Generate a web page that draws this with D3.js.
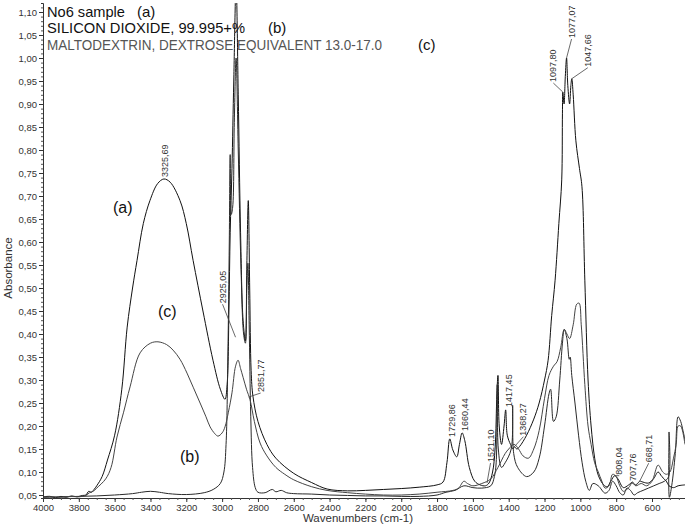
<!DOCTYPE html>
<html>
<head>
<meta charset="utf-8">
<script src="https://d3js.org/d3.v7.min.js"></script>
<style>
  body { margin: 0; background: #fff; }
  text { font-family: "Liberation Sans", Arial, sans-serif; }
</style>
</head>
<body>
<svg id="chart" width="685" height="531"></svg>
<script>
// ---- data ----
const xTicks = [4000, 3800, 3600, 3400, 3200, 3000, 2800, 2600, 2400, 2200, 2000, 1800, 1600, 1400, 1200, 1000, 800, 600];
const yTicks = [0.05, 0.10, 0.15, 0.20, 0.25, 0.30, 0.35, 0.40, 0.45, 0.50, 0.55, 0.60, 0.65, 0.70, 0.75, 0.80, 0.85, 0.90, 0.95, 1.00, 1.05, 1.10];

const legendNames = ["No6 sample", "SILICON DIOXIDE, 99.995+%", "MALTODEXTRIN, DEXTROSE EQUIVALENT 13.0-17.0"];
const legendTags = ["(a)", "(b)", "(c)"];

// (a) No6 sample  [wavenumber, absorbance]
const sampleA = [
  [4000, 0.046], [3960, 0.047], [3930, 0.044], [3900, 0.047], [3870, 0.045], [3840, 0.048], [3810, 0.046],
  [3780, 0.049], [3760, 0.05], [3745, 0.058], [3730, 0.056], [3715, 0.062], [3700, 0.07], [3670, 0.09],
  [3640, 0.126], [3600, 0.18], [3560, 0.28], [3530, 0.415], [3500, 0.5], [3475, 0.56], [3440, 0.64],
  [3403, 0.69], [3360, 0.727], [3325, 0.737], [3290, 0.73], [3235, 0.69], [3200, 0.64], [3162, 0.56],
  [3107, 0.45], [3051, 0.343], [3010, 0.28], [2984, 0.258], [2972, 0.29], [2962, 0.45], [2955, 0.62],
  [2945, 0.76], [2935, 0.95], [2922, 1.16], [2910, 0.92], [2897, 0.62], [2883, 0.43], [2870, 0.385],
  [2862, 0.55], [2854, 0.69], [2846, 0.5], [2838, 0.32], [2828, 0.265], [2800, 0.21], [2750, 0.16],
  [2700, 0.13], [2600, 0.097], [2500, 0.077], [2414, 0.063], [2300, 0.059], [2200, 0.06], [2100, 0.062],
  [2000, 0.064], [1900, 0.067], [1800, 0.072], [1767, 0.078], [1745, 0.12], [1729, 0.172], [1712, 0.148],
  [1690, 0.133], [1675, 0.16], [1660, 0.185], [1645, 0.168], [1620, 0.11], [1590, 0.08], [1560, 0.072],
  [1530, 0.07], [1510, 0.076], [1490, 0.1], [1476, 0.15], [1466, 0.27], [1460, 0.31], [1453, 0.2],
  [1440, 0.16], [1426, 0.2], [1417, 0.235], [1408, 0.18], [1390, 0.16], [1376, 0.15], [1368, 0.155],
  [1355, 0.15], [1340, 0.155], [1300, 0.18], [1260, 0.215], [1230, 0.25], [1200, 0.3], [1180, 0.343],
  [1160, 0.44], [1141, 0.517], [1120, 0.64], [1104, 0.735], [1100, 0.88], [1097.8, 0.926], [1091, 0.9],
  [1084, 0.96], [1077, 1.0], [1070, 0.94], [1060, 0.9], [1053, 0.94], [1047.7, 0.955], [1040, 0.92],
  [1025, 0.82], [1005, 0.76], [991, 0.72], [975, 0.517], [957, 0.3], [940, 0.2], [920, 0.13], [900, 0.093],
  [870, 0.072], [850, 0.068], [830, 0.08], [808, 0.092], [790, 0.085], [760, 0.066], [730, 0.072],
  [708, 0.078], [695, 0.072], [680, 0.075], [669, 0.08], [650, 0.078], [620, 0.076], [590, 0.086],
  [566, 0.1], [545, 0.09], [520, 0.08], [505, 0.07], [480, 0.066], [454, 0.07], [416, 0.072]
];

// (b) silicon dioxide
const sampleB = [
  [4000, 0.045], [3900, 0.046], [3800, 0.047], [3700, 0.048], [3600, 0.05], [3500, 0.053], [3450, 0.056],
  [3400, 0.058], [3350, 0.056], [3300, 0.053], [3200, 0.051], [3100, 0.055], [3050, 0.062], [3010, 0.075],
  [2990, 0.1], [2978, 0.16], [2968, 0.35], [2960, 0.6], [2955, 0.79], [2949, 0.66], [2941, 0.676],
  [2932, 0.86], [2922, 1.0], [2910, 0.8], [2895, 0.55], [2880, 0.4], [2870, 0.38], [2862, 0.5],
  [2856, 0.554], [2849, 0.42], [2840, 0.22], [2830, 0.11], [2815, 0.066], [2800, 0.056], [2760, 0.055],
  [2720, 0.062], [2700, 0.057], [2670, 0.06], [2640, 0.055], [2600, 0.053], [2500, 0.052], [2400, 0.05],
  [2300, 0.049], [2200, 0.048], [2100, 0.048], [2000, 0.047], [1900, 0.047], [1800, 0.05], [1750, 0.056],
  [1700, 0.06], [1650, 0.07], [1600, 0.066], [1550, 0.065], [1500, 0.07], [1480, 0.09], [1470, 0.12],
  [1464, 0.29], [1458, 0.15], [1440, 0.11], [1420, 0.12], [1386, 0.15], [1378, 0.245], [1372, 0.14],
  [1350, 0.11], [1300, 0.09], [1260, 0.1], [1230, 0.13], [1200, 0.2], [1175, 0.27], [1166, 0.28],
  [1150, 0.21], [1135, 0.22], [1115, 0.3], [1100, 0.38], [1090, 0.41], [1075, 0.39], [1062, 0.345],
  [1057, 0.35], [1048, 0.31], [1030, 0.25], [1010, 0.18], [990, 0.12], [970, 0.08], [950, 0.06],
  [930, 0.075], [900, 0.07], [862, 0.054], [840, 0.06], [820, 0.08], [800, 0.07], [780, 0.055],
  [760, 0.05], [740, 0.065], [720, 0.06], [700, 0.05], [680, 0.055], [650, 0.06], [620, 0.065],
  [590, 0.07], [560, 0.075], [530, 0.08], [507, 0.09], [505, 0.187], [503, 0.045], [490, 0.07],
  [470, 0.14], [454, 0.22], [440, 0.21], [427, 0.19], [416, 0.17]
];

// (c) maltodextrin
const sampleC = [
  [4000, 0.045], [3950, 0.046], [3900, 0.045], [3850, 0.047], [3800, 0.046], [3760, 0.049], [3740, 0.055],
  [3720, 0.058], [3700, 0.065], [3650, 0.085], [3620, 0.11], [3587, 0.176], [3550, 0.23], [3514, 0.285],
  [3458, 0.359], [3400, 0.38], [3358, 0.383], [3310, 0.377], [3274, 0.365], [3235, 0.345], [3196, 0.315],
  [3160, 0.283], [3123, 0.25], [3090, 0.22], [3067, 0.198], [3040, 0.183], [3023, 0.178], [3000, 0.185],
  [2984, 0.198], [2965, 0.23], [2945, 0.272], [2925, 0.33], [2911, 0.343], [2897, 0.325], [2883, 0.306],
  [2864, 0.28], [2844, 0.257], [2820, 0.21], [2788, 0.163], [2750, 0.135], [2700, 0.11], [2650, 0.095],
  [2600, 0.083], [2500, 0.068], [2414, 0.06], [2300, 0.055], [2200, 0.052], [2100, 0.05], [2000, 0.05],
  [1900, 0.052], [1800, 0.056], [1711, 0.06], [1680, 0.065], [1650, 0.08], [1630, 0.075], [1600, 0.07],
  [1550, 0.075], [1500, 0.085], [1460, 0.11], [1420, 0.14], [1400, 0.15], [1370, 0.16], [1345, 0.15],
  [1320, 0.135], [1290, 0.13], [1260, 0.15], [1230, 0.19], [1200, 0.26], [1175, 0.31], [1150, 0.33],
  [1130, 0.34], [1110, 0.37], [1090, 0.41], [1075, 0.4], [1060, 0.39], [1040, 0.42], [1020, 0.465],
  [1007, 0.467], [995, 0.42], [975, 0.29], [957, 0.2], [940, 0.16], [920, 0.12], [900, 0.1], [880, 0.08],
  [862, 0.065], [840, 0.07], [820, 0.095], [800, 0.09], [780, 0.07], [760, 0.058], [730, 0.066],
  [711, 0.076], [690, 0.07], [660, 0.075], [630, 0.07], [600, 0.08], [566, 0.115], [540, 0.1],
  [520, 0.095], [500, 0.1], [480, 0.13], [465, 0.16], [454, 0.2], [440, 0.2], [416, 0.16]
];

// labelled peaks of the sample: [text, wavenumber, absorbance]
const peakLabels = [
  ["3325,69", 3325.69, 0.737], ["2925,05", 2925.05, 0.393], ["2851,77", 2851.77, 0.263],
  ["1729,86", 1729.86, 0.172], ["1660,44", 1660.44, 0.185], ["1521,10", 1521.10, 0.076],
  ["1417,45", 1417.45, 0.235], ["1368,27", 1368.27, 0.155], ["1097,80", 1097.80, 0.926],
  ["1077,07", 1077.07, 1.0], ["1047,66", 1047.66, 0.955], ["808,04", 808.04, 0.092],
  ["707,76", 707.76, 0.078], ["668,71", 668.71, 0.08]
];
// where each label text sits, as [dx, dy] from its peak point (pixels)
const labelShift = [
  [1.5, -1], [-13, -33], [12, -4], [2.5, -1], [3, -1], [3.5, -20], [3, -2], [9, -10], [-9.5, -9],
  [5, -19], [16, -11], [4.5, 0], [0, 0], [9, -18]
];

const curveTags = [["(a)", 3609, 0.663], ["(c)", 3358, 0.437], ["(b)", 3235, 0.122]];

// ---- drawing ----
const svg = d3.select("#chart");
const plotLeft = 43, plotRight = 685, plotTop = 3, plotBottom = 498;

const x = d3.scaleLinear().domain([4000, 600]).range([43, 652]);
const y = d3.scaleLinear().domain([0.05, 1.10]).range([495, 12]);
const xEnd = x.invert(plotRight);

svg.append("defs").append("clipPath").attr("id", "plotClip")
  .append("rect").attr("x", plotLeft).attr("y", plotTop)
  .attr("width", plotRight - plotLeft).attr("height", plotBottom - plotTop);

const line = d3.line()
  .x(d => x(d[0]))
  .y(d => y(d[1]))
  .curve(d3.curveCatmullRom.alpha(0.5));

const plot = svg.append("g").attr("clip-path", "url(#plotClip)");
[[sampleA, "#111"], [sampleB, "#2a2a2a"], [sampleC, "#444"]].forEach(([data, col]) => {
  plot.append("path")
    .datum(data)
    .attr("fill", "none")
    .attr("stroke", col)
    .attr("stroke-width", 1)
    .attr("d", line);
});

// X axis
const xAxisScale = x.copy().domain([4000, xEnd]).range([plotLeft, plotRight]);
svg.append("g")
  .attr("transform", `translate(0,${plotBottom})`)
  .call(d3.axisBottom(xAxisScale).tickValues(d3.range(4000, xEnd, -50)).tickSize(2).tickFormat(""))
  .call(g => g.select(".domain").attr("stroke", "#333"))
  .call(g => g.selectAll(".tick line").attr("stroke", "#555"));
svg.append("g")
  .attr("transform", `translate(0,${plotBottom})`)
  .call(d3.axisBottom(xAxisScale).tickValues(xTicks).tickSize(4).tickPadding(2).tickFormat(d3.format("d")))
  .call(g => g.select(".domain").remove())
  .call(g => g.selectAll(".tick line").attr("stroke", "#333"))
  .call(g => g.selectAll(".tick text").attr("font-family", "'Liberation Sans Narrow', 'Liberation Sans', sans-serif")
    .attr("font-size", 9.5).attr("fill", "#333"));

// Y axis
const yAxisScale = y.copy().domain([y.invert(plotBottom), y.invert(plotTop)]).range([plotBottom, plotTop]);
svg.append("g")
  .attr("transform", `translate(${plotLeft},0)`)
  .call(d3.axisLeft(yAxisScale).tickValues(d3.range(0.05, 1.115, 0.01)).tickSize(2).tickFormat(""))
  .call(g => g.select(".domain").attr("stroke", "#333"))
  .call(g => g.selectAll(".tick line").attr("stroke", "#555"));
svg.append("g")
  .attr("transform", `translate(${plotLeft},0)`)
  .call(d3.axisLeft(yAxisScale).tickValues(yTicks).tickSize(4).tickPadding(2)
    .tickFormat(d => d.toFixed(2).replace(".", ",")))
  .call(g => g.select(".domain").remove())
  .call(g => g.selectAll(".tick line").attr("stroke", "#333"))
  .call(g => g.selectAll(".tick text").attr("font-family", "'Liberation Sans Narrow', 'Liberation Sans', sans-serif")
    .attr("font-size", 9.5).attr("fill", "#333"));

svg.append("text")
  .attr("transform", "translate(12,268) rotate(-90)")
  .attr("text-anchor", "middle")
  .attr("font-size", 11.5)
  .attr("fill", "#333")
  .text("Absorbance");
svg.append("text")
  .attr("x", 358).attr("y", 522)
  .attr("text-anchor", "middle")
  .attr("font-size", 11.5)
  .attr("fill", "#333")
  .text("Wavenumbers (cm-1)");

// peak labels with leader lines
const peaks = svg.append("g");
peakLabels.forEach(([txt, w, v], i) => {
  const px = x(w), py = y(v);
  const [dx, dy] = labelShift[i];
  const tx = px + dx, ty = py + dy;
  if (Math.abs(dx) > 4 || Math.abs(dy) > 3) {
    peaks.append("line")
      .attr("x1", px).attr("y1", py).attr("x2", tx).attr("y2", ty)
      .attr("stroke", "#444").attr("stroke-width", 0.8);
  }
  peaks.append("text")
    .attr("transform", `translate(${tx + 3},${ty - 1}) rotate(-90)`)
    .attr("font-family", "'Liberation Sans Narrow', 'Liberation Sans', sans-serif")
    .attr("font-size", 9)
    .attr("fill", "#333")
    .text(txt);
});

// legend lines at top-left
const legendY = [17, 33, 50];
const legendWidth = [78, 198, 335];
const legendTagX = [137, 268, 418];
legendNames.forEach((name, i) => {
  svg.append("text")
    .attr("x", 47).attr("y", legendY[i])
    .attr("font-size", 15)
    .attr("textLength", legendWidth[i])
    .attr("lengthAdjust", "spacingAndGlyphs")
    .attr("fill", i === 2 ? "#555" : "#111")
    .text(name);
  svg.append("text")
    .attr("x", legendTagX[i]).attr("y", legendY[i])
    .attr("font-family", "'Noto Sans', sans-serif")
    .attr("font-size", 15)
    .attr("fill", "#111")
    .text(legendTags[i]);
});

// curve tags inside the plot
curveTags.forEach(([t, w, v]) => {
  svg.append("text")
    .attr("x", x(w)).attr("y", y(v))
    .attr("font-family", "'Noto Sans', sans-serif")
    .attr("font-size", 16)
    .attr("fill", "#111")
    .text(t);
});
</script>
</body>
</html>
